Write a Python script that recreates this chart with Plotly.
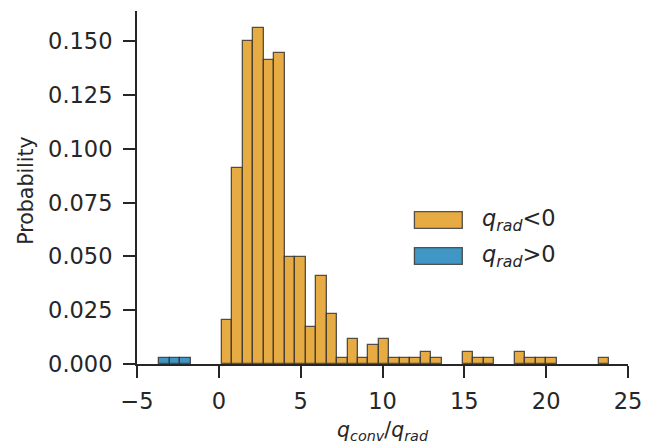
import numpy as np
import plotly.graph_objects as go

# ---- data ----
bin_start = -3.64
bin_end = 23.84
n_bins = 43

# probability per bin, q_rad < 0 (orange)
prob_neg = [0, 0, 0, 0, 0, 0,
            0.0205, 0.0911, 0.1503, 0.1560, 0.1413, 0.1446,
            0.0497, 0.0497, 0.0174, 0.0410, 0.0234, 0.0029,
            0.0116, 0.0029, 0.0087, 0.0116, 0.0029, 0.0029,
            0.0029, 0.0058, 0.0029, 0, 0, 0.0058,
            0.0029, 0.0029, 0, 0, 0.0058, 0.0029,
            0.0029, 0.0029, 0, 0, 0, 0, 0.0029]
# probability per bin, q_rad > 0 (blue)
prob_pos = [0.0029, 0.0029, 0.0029] + [0] * 40

y_ticks = [0, 0.025, 0.05, 0.075, 0.1, 0.125, 0.15]
x_ticks = [-5, 0, 5, 10, 15, 20, 25]
legend_labels = ["<i>q</i><sub><i>rad</i></sub>&lt;0", "<i>q</i><sub><i>rad</i></sub>&gt;0"]

# ---- styling ----
ORANGE = "#e6ab43"
BLUE = "#4096c5"
EDGE = "rgba(45,45,45,0.8)"
TXT = "#262626"
FONT = "DejaVu Sans"

edges = np.linspace(bin_start, bin_end, n_bins + 1)
centers = (edges[:-1] + edges[1:]) / 2
width = edges[1] - edges[0]

fig = go.Figure()
for probs, col in [(prob_neg, ORANGE), (prob_pos, BLUE)]:
    p = np.array(probs, dtype=float)
    mask = p > 0
    fig.add_trace(go.Bar(
        x=centers[mask], y=p[mask], width=width,
        marker=dict(color=col, line=dict(color=EDGE, width=1.3)),
        showlegend=False,
    ))

fig.update_layout(
    width=658, height=448,
    margin=dict(l=136.5, r=29.7, t=11, b=84),
    paper_bgcolor="white", plot_bgcolor="white",
    barmode="overlay", bargap=0,
    font=dict(family=FONT, color=TXT, size=22.5),
)
axis_common = dict(
    showgrid=False, zeroline=False, showline=True, linecolor=TXT, linewidth=2,
    ticks="outside", ticklen=12, tickwidth=2, tickcolor=TXT,
    tickfont=dict(family=FONT, size=22.5, color=TXT),
)
fig.update_xaxes(range=[-5, 25], tickvals=x_ticks, ticklabelstandoff=4, **axis_common)
fig.update_yaxes(range=[0, 0.1641], tickvals=y_ticks, tickformat=".3f", ticklabelstandoff=6, **axis_common)

# axis titles
fig.add_annotation(text="Probability", xref="paper", yref="paper", x=-0.2267, y=0.49,
                   xanchor="center", yanchor="middle", textangle=-90, showarrow=False,
                   font=dict(family=FONT, size=20.5, color=TXT))
fig.add_annotation(text="<i>q</i><sub><i>conv</i></sub>/<i>q</i><sub><i>rad</i></sub>",
                   xref="paper", yref="paper", x=0.5, y=-0.19,
                   xanchor="center", yanchor="middle", showarrow=False,
                   font=dict(family=FONT, size=20.5, color=TXT))

# legend (drawn manually to match wide patches)
legend_rows = [(0.4314, 0.3844, ORANGE), (0.3295, 0.2824, BLUE)]
for (y0, y1, col), lab in zip(legend_rows, legend_labels):
    fig.add_shape(type="rect", xref="paper", yref="paper", x0=0.565, x1=0.6625, y0=y1, y1=y0,
                  fillcolor=col, line=dict(color=EDGE, width=1.3))
    fig.add_annotation(text=lab, xref="paper", yref="paper", x=0.698, y=(y0 + y1) / 2,
                       xanchor="left", yanchor="middle", showarrow=False,
                       font=dict(family=FONT, size=22.5, color=TXT))

fig.write_html("out.html", config={"displayModeBar": False},
               post_script="document.body.style.margin='0';document.body.style.padding='0';")
